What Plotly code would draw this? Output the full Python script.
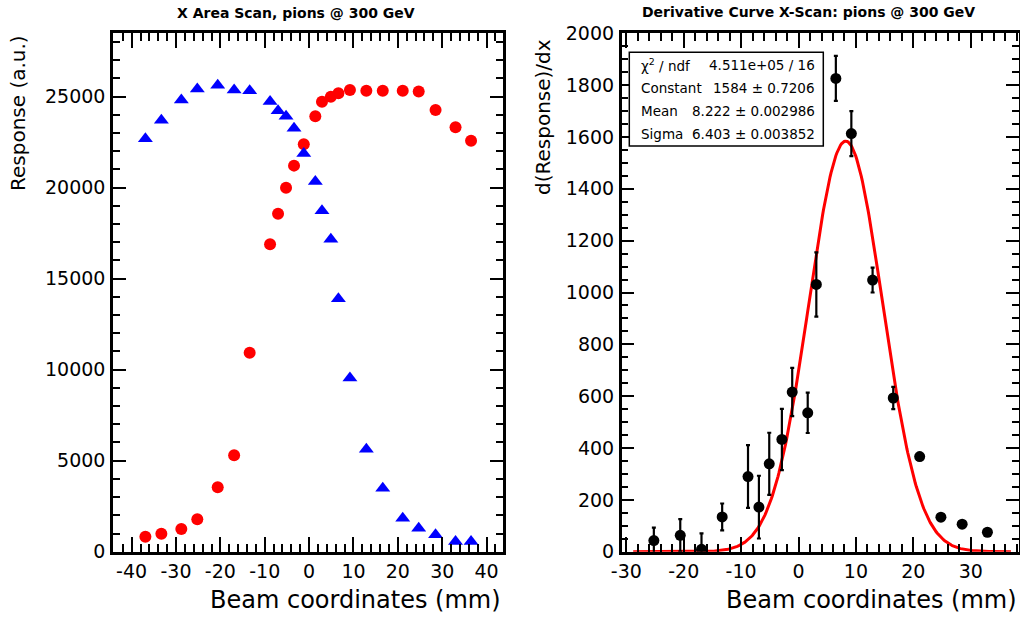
import numpy as np
import plotly.graph_objects as go

# ---------------- data ----------------
scan_x = [-36.9, -33.3, -28.8, -25.2, -20.6, -16.9, -13.4, -8.8, -7.0, -5.2, -3.4, -1.2,
          1.4, 2.9, 4.9, 6.6, 9.2, 12.9, 16.6, 21.1, 24.7, 28.5, 33.0, 36.5]
red_resp = [820, 990, 1250, 1780, 3540, 5300, 10930, 16890, 18570, 20000, 21210, 22390,
            23920, 24720, 25000, 25190, 25370, 25330, 25330, 25330, 25280, 24270, 23320, 22580]
blue_resp = [22680, 23700, 24810, 25420, 25620, 25360, 25330, 24740, 24230, 23920, 23270, 21870,
             20340, 18730, 17170, 13900, 9540, 5630, 3490, 1840, 1290, 930, 560, 560]

deriv_x = [-25.2, -20.6, -16.9, -13.3, -8.8, -6.9, -5.1, -2.9, -1.1, 1.6, 3.1, 6.5, 9.2,
           12.9, 16.5, 21.1, 24.8, 28.5, 32.9]
deriv_y = [43, 63, 9, 134, 290, 172, 339, 433, 616, 536, 1031, 1826, 1613, 1048, 593, 367,
           133, 106, 75]
deriv_err = [50, 63, 62, 52, 121, 121, 120, 118, 93, 78, 124, 87, 87, 48, 43, 14, 5, 5, 5]

fit_const = 1584.0
fit_mean = 8.222
fit_sigma = 6.403
fit_range = [-28.8, 37.0]

left_xticks = [-40, -30, -20, -10, 0, 10, 20, 30, 40]
left_yticks = [0, 5000, 10000, 15000, 20000, 25000]
right_xticks = [-30, -20, -10, 0, 10, 20, 30]
right_yticks = [0, 200, 400, 600, 800, 1000, 1200, 1400, 1600, 1800, 2000]

stats_labels = ["χ<sup>2</sup> / ndf", "Constant", "Mean", "Sigma"]
stats_values = ["4.511e+05 / 16", "1584 ± 0.7206", "8.222 ± 0.002986", "6.403 ± 0.003852"]

title_left = "X Area Scan, pions @ 300 GeV"
title_right = "Derivative Curve X-Scan: pions @ 300 GeV"
xtitle = "Beam coordinates (mm)"
ytitle_left = "Response (a.u.)"
ytitle_right = "d(Response)/dx"

# ---------------- figure ----------------
W, H = 1020, 617
def px(x):
    return x / W
def py(y):
    return 1 - y / H

FONT = "DejaVu Sans"

fig = go.Figure()

fig.add_trace(go.Scatter(x=scan_x, y=red_resp, mode="markers",
                         marker=dict(symbol="circle", size=12, color="rgb(255,0,0)"),
                         xaxis="x", yaxis="y", showlegend=False))
fig.add_trace(go.Scatter(x=scan_x, y=blue_resp, mode="markers",
                         marker=dict(symbol="triangle-up", size=13, color="rgb(0,0,255)"),
                         xaxis="x", yaxis="y", showlegend=False))

fx = np.linspace(fit_range[0], fit_range[1], 400)
fy = fit_const * np.exp(-0.5 * ((fx - fit_mean) / fit_sigma) ** 2)
fig.add_trace(go.Scatter(x=fx, y=fy, mode="lines", line=dict(color="rgb(255,0,0)", width=3),
                         xaxis="x2", yaxis="y2", showlegend=False))
fig.add_trace(go.Scatter(x=deriv_x, y=deriv_y, mode="markers",
                         marker=dict(symbol="circle", size=11, color="black"),
                         error_y=dict(type="data", array=deriv_err, color="black",
                                      thickness=2.2, width=2),
                         xaxis="x2", yaxis="y2", showlegend=False))

tickfont = dict(family=FONT, size=19, color="black")

def xax(domain, rng, anchor, ticks, minor_dtick):
    return dict(domain=domain, range=rng, anchor=anchor, automargin=False,
                tickmode="array", tickvals=ticks, ticktext=[str(t) for t in ticks],
                ticks="inside", ticklen=15, tickwidth=2, tickcolor="black",
                mirror="allticks", showline=True, linewidth=2.5, linecolor="black",
                showgrid=False, zeroline=False, tickfont=tickfont,
                ticklabelstandoff=1,
                minor=dict(ticks="inside", ticklen=8, tickwidth=1.5, dtick=minor_dtick,
                           tick0=0, tickcolor="black", showgrid=False))

def yax(domain, rng, anchor, ticks, minor_dtick):
    return dict(domain=domain, range=rng, anchor=anchor, automargin=False,
                tickmode="array", tickvals=ticks, ticktext=[str(t) for t in ticks],
                ticks="inside", ticklen=13, tickwidth=2, tickcolor="black",
                mirror="allticks", showline=True, linewidth=2.5, linecolor="black",
                showgrid=False, zeroline=False, tickfont=tickfont,
                ticklabelstandoff=1,
                minor=dict(ticks="inside", ticklen=7, tickwidth=1.5, dtick=minor_dtick,
                           tick0=0, tickcolor="black", showgrid=False))

ydom = [py(551.7), py(33.3)]
fig.update_layout(
    width=W, height=H,
    margin=dict(l=0, r=0, t=0, b=0, autoexpand=False),
    paper_bgcolor="white", plot_bgcolor="white",
    xaxis=xax([px(113), px(503)], [-44.2, 43.7], "y", left_xticks, 2),
    yaxis=yax(ydom, [0, 28480], "x", left_yticks, 1000),
    xaxis2=xax([px(621.7), px(1019)], [-30.8, 38.4], "y2", right_xticks, 2),
    yaxis2=yax(ydom, [0, 2000], "x2", right_yticks, 50),
)

ann = []
def add_text(text, x, y, size, xanchor="center", yanchor="middle", bold=False, angle=0):
    ann.append(dict(text=("<b>%s</b>" % text) if bold else text, x=px(x), y=py(y),
                    xref="paper", yref="paper", showarrow=False, xanchor=xanchor,
                    yanchor=yanchor, textangle=angle,
                    font=dict(family=FONT, size=size, color="black")))

add_text(title_left, 296, 13, 14, bold=True)
add_text(title_right, 808, 12, 14, bold=True)
add_text(xtitle, 503, 600, 24, xanchor="right")
add_text(xtitle, 1019, 600, 24, xanchor="right")
add_text(ytitle_left, 18, 33, 20, yanchor="top", angle=-90)
add_text(ytitle_right, 543, 37, 20, yanchor="top", angle=-90)

# stats box
fig.add_shape(type="rect", xref="paper", yref="paper",
              x0=px(629.3), x1=px(823.3), y0=py(146), y1=py(52.3),
              line=dict(color="black", width=1.5), fillcolor="white", layer="above")
line_y = [65, 88.5, 111.5, 134]
for lab, val, yy in zip(stats_labels, stats_values, line_y):
    add_text(lab, 639, yy, 13.5, xanchor="left")
    add_text(val, 817, yy, 13.5, xanchor="right")

fig.update_layout(annotations=ann)
fig.write_html("out.html")
